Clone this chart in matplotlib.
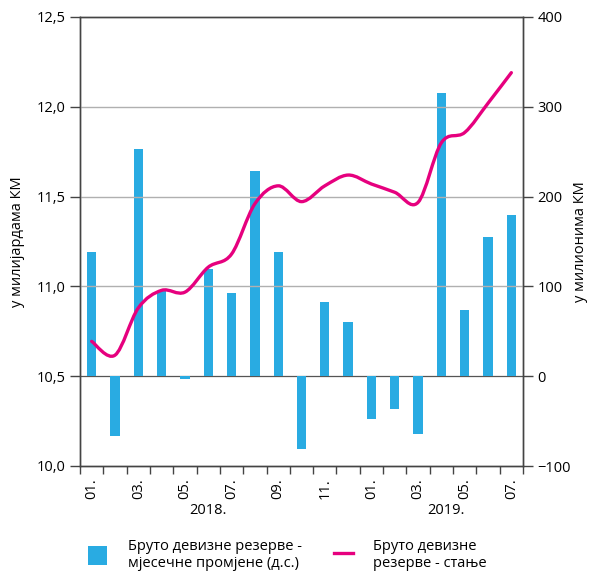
import numpy as np
import matplotlib
matplotlib.use("Agg")
import matplotlib.pyplot as plt
from matplotlib.path import Path
from matplotlib.patches import PathPatch
from matplotlib.lines import Line2D
from matplotlib.patches import Patch
from matplotlib.ticker import FuncFormatter

plt.rcParams['font.family'] = ['Open Sans', 'DejaVu Sans']

# мјесечне промјене, мил. КМ (десна скала)
changes = [138, -67, 253, 95, -3, 119, 93, 229, 138, -81,
           83, 60, -48, -36, -64, 315, 74, 155, 179]
# стање, млрд. КМ (лијева скала)
stock = [10.694, 10.617, 10.88, 10.978, 10.968, 11.107, 11.18, 11.46, 11.56, 11.472,
         11.56, 11.62, 11.57, 11.524, 11.468, 11.80, 11.857, 12.02, 12.19]
month_labels = ["01.", "", "03.", "", "05.", "", "07.", "", "09.", "", "11.", "",
                "01.", "", "03.", "", "05.", "", "07."]
years = ["2018.", "2019."]

bar_color = "#29ABE2"
line_color = "#E6007E"

fig = plt.figure(figsize=(5.9, 5.76), dpi=100)
axl = fig.add_axes([80/590, 1-466/576, 443/590, 449/576])
axr = axl.twinx()

n = len(changes)
x = np.arange(n)

axr.bar(x, changes, width=0.4, color=bar_color, zorder=2)
axr.set_ylim(-100, 400)
axr.set_yticks(range(-100, 401, 100))
axr.axhline(0, color="#555555", lw=0.9, zorder=1)

axl.set_ylim(10.0, 12.5)
axl.set_yticks([10.0, 10.5, 11.0, 11.5, 12.0, 12.5])
axl.yaxis.set_major_formatter(FuncFormatter(lambda v, p: f"{v:.1f}".replace(".", ",")))
for v in [11.0, 11.5, 12.0]:
    axl.axhline(v, color="#b0b0b0", lw=1.0, zorder=0)
axl.set_xlim(-0.5, n - 0.5)

# smooth line (Catmull-Rom -> cubic bezier) drawn on top of bars
pts = np.column_stack([x, stock])
verts = [tuple(pts[0])]
codes = [Path.MOVETO]
for i in range(n - 1):
    p0 = pts[max(i - 1, 0)]
    p1 = pts[i]
    p2 = pts[i + 1]
    p3 = pts[min(i + 2, n - 1)]
    c1 = p1 + (p2 - p0) / 6
    c2 = p2 - (p3 - p1) / 6
    verts += [tuple(c1), tuple(c2), tuple(p2)]
    codes += [Path.CURVE4] * 3
axr.set_zorder(1)
axl.set_zorder(2)
axl.patch.set_visible(False)
axl.add_patch(PathPatch(Path(verts, codes), fill=False, edgecolor=line_color,
                        lw=2.4, capstyle="round", zorder=3))

# x ticks on month boundaries, labels at bar centres
axl.set_xticks(np.arange(-0.5, n, 1.0))
axl.set_xticklabels([])
axl.tick_params(axis="x", direction="out", length=6, width=1, color="#444444")
axl.set_xticks(x, minor=True)
axl.set_xticklabels(month_labels, minor=True, rotation=90, fontsize=10.5)
axl.tick_params(axis="x", which="minor", length=0, pad=9)

axl.tick_params(axis="y", direction="out", length=7, width=1, labelsize=10.5, color="#444444")
axr.tick_params(axis="y", direction="out", length=7, width=1, labelsize=10.5, color="#444444")

axl.text(5, -0.1, years[0], transform=axl.get_xaxis_transform(), ha="center", va="center", fontsize=10.5)
axl.text(15.2, -0.1, years[1], transform=axl.get_xaxis_transform(), ha="center", va="center", fontsize=10.5)

axl.set_ylabel("у милијардама КМ", fontsize=10.5)
axr.set_ylabel("у милионима КМ", fontsize=10.5)
axl.yaxis.set_label_coords(-0.125, 0.5)
axr.yaxis.set_label_coords(1.113, 0.5)

for ax in (axl, axr):
    for s in ax.spines.values():
        s.set_color("#444444")
        s.set_linewidth(1.0)

handles = [Patch(facecolor=bar_color, edgecolor="none"),
           Line2D([0], [0], color=line_color, lw=2.4)]
labels = ["Бруто девизне резерве -\nмјесечне промјене (д.с.)", "Бруто девизне\nрезерве - стање"]
fig.legend(handles, labels, loc="lower left", bbox_to_anchor=(75/590, -0.014), ncol=2,
           frameon=False, fontsize=10.5, handlelength=1.3, handleheight=1.6,
           columnspacing=2.2, handletextpad=1.4)

fig.savefig("out.png", dpi=100)
